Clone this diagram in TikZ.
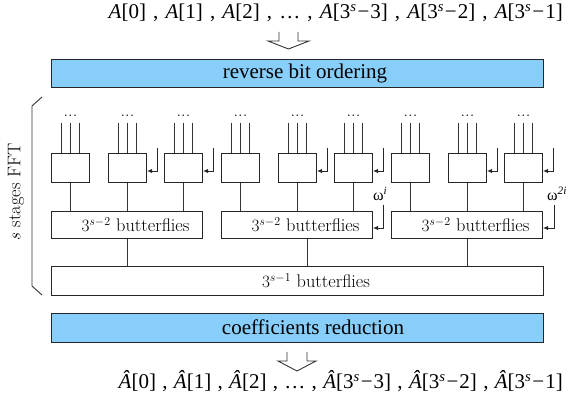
\documentclass[tikz,border=0pt]{standalone}
\usepackage{fontspec}
\newfontfamily\tms{Liberation Serif}
\usetikzlibrary{arrows.meta}
\newcommand{\mysep}{\hspace{0.34em},\hspace{0.34em}}
\newcommand{\mysepb}{\hspace{0.3em},\hspace{0.3em}}
\newcommand{\myA}[1]{\textit{A}[#1]}
\newcommand{\myAh}[1]{\textit{Â}[#1]}
\newcommand{\myth}{3\textsuperscript{\textit{s}}\kern1pt−\kern1pt}
\begin{document}
\begin{tikzpicture}[x=1pt,y=-1pt,
  ln/.style={draw=black!80,line width=0.9pt},
  bx/.style={draw=black!85,line width=1pt,inner sep=0pt,anchor=north west},
  smallbox/.style={bx,minimum width=38pt,minimum height=29pt},
  grpbox/.style={bx,minimum width=151pt,minimum height=27pt},
  widebox/.style={bx,minimum width=492pt,minimum height=28pt},
  bluebox/.style={widebox,fill={rgb,255:red,135;green,206;blue,250}},
  fb/.style={draw=black!85,line width=0.9pt,-{Latex[length=5pt,width=4.5pt]}},
  cmfont/.style={font=\fontsize{18.3}{20}\selectfont,inner sep=0pt},
  tmfont/.style={font=\tms\fontsize{21}{23}\selectfont,inner sep=0pt},
  omfont/.style={font=\tms\fontsize{16}{18}\selectfont,inner sep=0pt}
]
\useasboundingbox (0,0) rectangle (571,403);

% input / output text
\node[tmfont,anchor=base east] (inp) at (563,19) {\myA{0}\mysep\myA{1}\mysep\myA{2}\mysep…\mysep\myA{\myth 3}\mysep\myA{\myth 2}\mysep\myA{\myth 1}};
\node[tmfont,anchor=base east] (outp) at (563,389) {\myAh{0}\mysepb\myAh{1}\mysepb\myAh{2}\mysepb…\mysepb\myAh{\myth 3}\mysepb\myAh{\myth 2}\mysepb\myAh{\myth 1}};

% hollow arrows
\coordinate (ha) at (288.5,49);
\draw[ln] ([shift={(-9.5,-17)}]ha) -- ++(0,9) -- ++(-11,0) -- (ha) -- ++(20.5,-8) -- ++(-11,0) -- ++(0,-9);
\coordinate (hb) at (297,371);
\draw[ln] ([shift={(-10,-19)}]hb) -- ++(0,9) -- ++(-9,0) -- (hb) -- ++(19,-10) -- ++(-9,0) -- ++(0,-9);

% blue boxes
\node[bluebox,minimum height=28pt] (rbo) at (51,59) {};
\node[tmfont] (rbot) at (305,73) {reverse bit ordering};
\node[bluebox,minimum height=29pt] (cr) at (51,313) {};
\node[tmfont] (crt) at (313,327) {coefficients reduction};

% brace and label
\draw[ln] (42,97) -- (32,106) -- (32,286) -- (42,295);
\node[cmfont,rotate=90] (lbl) at (16,192) {$s$ stages FFT};

% big box
\node[widebox,minimum height=29pt] (big) at (51,266) {};
\node[cmfont] (bigt) at (316,281) {$3^{s-1}$ butterflies};

% groups
\foreach \g/\lx in {0/127,1/307,2/467}{
  \pgfmathsetmacro\gx{51+170*\g}
  \node[grpbox] (g\g) at (\gx,211) {};
  \pgfmathsetmacro\tx{135.5+170*\g}
  \node[cmfont] (gt\g) at (\tx,225) {$3^{s-2}$ butterflies};
  \draw[ln] (g\g.south -| \lx,0) -- (big.north -| \lx,0);
  \foreach \k/\o in {0/0,1/57,2/113}{
    \pgfmathsetmacro\sx{51+170*\g+\o}
    \node[smallbox] (s\g\k) at (\sx,153) {};
    \draw[ln] (s\g\k.south) -- (s\g\k.south |- g\g.north);
    \foreach \d in {-9,0,9}{
      \draw[ln] ([xshift=\d pt]s\g\k.north) -- ++(0,-30);
    }
    \path (s\g\k.north) ++(0,-36) node[cmfont,anchor=base] (dots\g\k) {...};
    \ifnum\k>0
      \draw[fb] ([shift={(10,-5)}]s\g\k.north east) |- ([yshift=-18pt]s\g\k.north east);
    \fi
  }
}

% omega feedback
\draw[fb] ([shift={(10,-6)}]g1.north east) |- ([yshift=-17pt]g1.north east);
\node[omfont,anchor=base west] (w1) at (373,201) {ω\textsuperscript{\textit{i}}};
\draw[fb] ([shift={(11,-6)}]g2.north east) |- ([yshift=-17pt]g2.north east);
\node[omfont,anchor=base west] (w2) at (547,201) {ω\textsuperscript{\textit{2i}}};
\end{tikzpicture}
\end{document}
